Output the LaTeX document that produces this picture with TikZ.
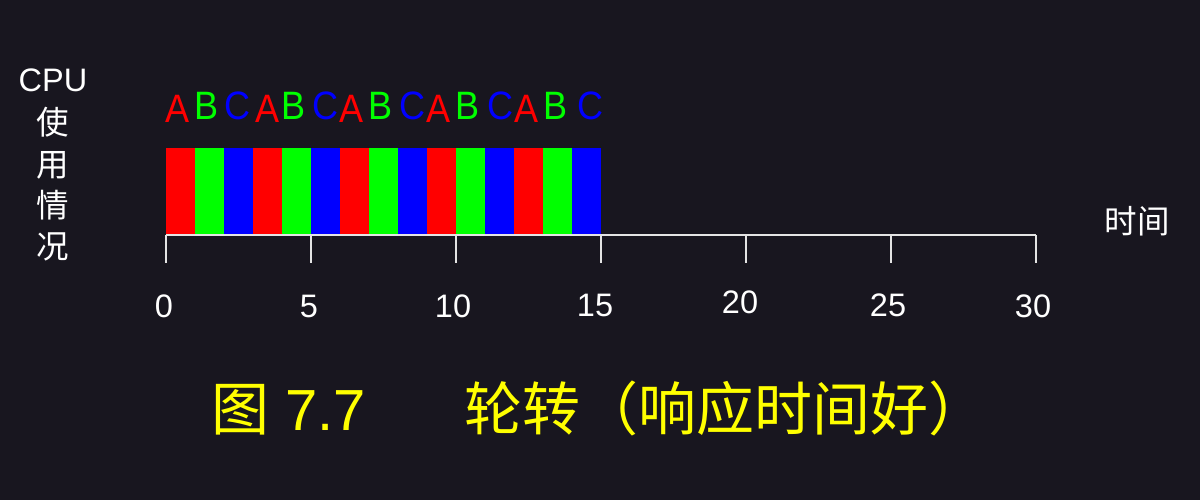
\documentclass[tikz,border=0pt]{standalone}
\usepackage{fontspec}
\setmainfont{Liberation Sans}
\newfontfamily\cjk{Noto Sans CJK SC}
\definecolor{bg}{RGB}{24,22,31}
\definecolor{axisc}{RGB}{228,228,228}
\definecolor{capy}{RGB}{255,255,0}
\begin{document}
\begin{tikzpicture}[x=0.02cm,y=-0.02cm,
  bar/.style={minimum width=0.58cm,minimum height=1.74cm,inner sep=0pt,outer sep=0pt,anchor=north west},
  lett/.style={inner sep=0pt,font=\fontsize{20.5}{20.5}\selectfont},
  ylab/.style={inner sep=0pt,text=white,font=\fontsize{18.5}{18.5}\selectfont},
  tlab/.style={inner sep=0pt,text=white,font=\fontsize{18.5}{18.5}\selectfont},
  axisline/.style={draw=axisc,line width=1.5pt}]
\fill[bg] (0,0) rectangle (1200,500);
\useasboundingbox (0,0) rectangle (1200,500);
% bars
\foreach \i/\c in {0/red,1/green,2/blue,3/red,4/green,5/blue,6/red,7/green,8/blue,9/red,10/green,11/blue,12/red,13/green,14/blue}{
  \node[bar,fill=\c] (b\i) at ({166+29*\i},148) {};
}
% letters
\foreach \i/\x/\y/\t/\c in {0/178/109/A/red,1/207/106/B/green,2/238/106/C/blue,3/268/109/A/red,4/294/106/B/green,5/326/106/C/blue,6/352/109/A/red,7/381/106/B/green,8/412/106/C/blue,9/439/109/A/red,10/468/106/B/green,11/500/106/C/blue,12/527/109/A/red,13/556/106/B/green,14/590/106/C/blue}{
  \node[lett,text=\c] (L\i) at (\x,\y) {\scalebox{1}[1.1]{\t}};
}
% axis
\foreach \k in {0,...,6}{
  \coordinate (t\k) at ({166+145*\k},235);
}
\draw[axisline] (t0) -- (t6);
\foreach \k in {0,...,6}{
  \draw[axisline] (t\k) -- ++(0,28);
}
% tick labels
\node[tlab] (l0) at (164,306) {0};
\node[tlab] (l1) at (309,306) {5};
\node[tlab] (l2) at (453,306) {10};
\node[tlab] (l3) at (595,305) {15};
\node[tlab] (l4) at (740,302) {20};
\node[tlab] (l5) at (888,305) {25};
\node[tlab] (l6) at (1033,306) {30};
% y label
\node[ylab] (cpu) at (53,80) {CPU};
\node[ylab] (u1) at (53,122) {\cjk 使};
\node[ylab] (u2) at (53,165) {\cjk 用};
\node[ylab] (u3) at (53,205) {\cjk 情};
\node[ylab] (u4) at (53,247) {\cjk 况};
% x label
\node[ylab] (xl) at (1137,221) {\cjk 时间};
% caption
\node[inner sep=0pt,anchor=west,text=capy,font=\fontsize{33}{33}\selectfont] (cap) at (211,408)
  {{\cjk 图} 7.7\hspace{56pt}{\cjk 轮转（响应时间好）}};
\end{tikzpicture}
\end{document}
